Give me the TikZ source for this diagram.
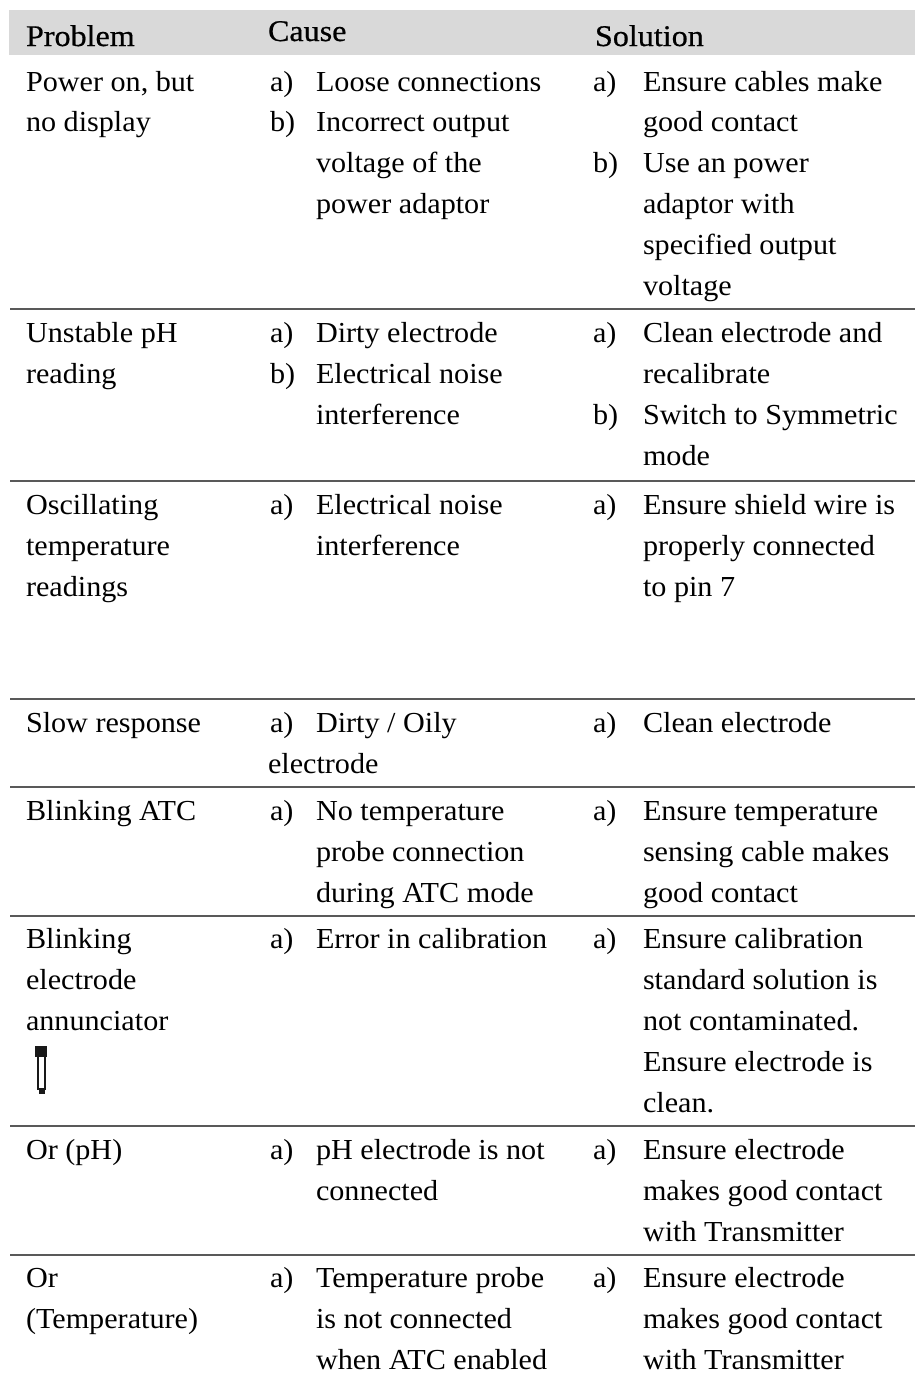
\documentclass[tikz,border=0pt]{standalone}
\usepackage{fontspec}
\setmainfont[FakeStretch=1.04]{Liberation Serif}
\newfontfamily\hdrfont[FakeStretch=1.07,FakeBold=0.6]{Liberation Serif}
\tikzset{
  x=1pt,y=-1pt,
  txt/.style={anchor=base west,inner sep=0pt,outer sep=0pt,font=\fontsize{29}{29}\selectfont,text=black},
  hdr/.style={txt,font=\hdrfont\fontsize{30}{30}\selectfont},
  rulepart/.style={line width=2pt,black!65}
}
\begin{document}
\begin{tikzpicture}
\useasboundingbox (0,0) rectangle (915,1376);
\fill[black!15] (9,10) rectangle (915,55);
\node[hdr] (h1) at (26,46) {Problem};
\node[hdr] (h2) at (268,41) {Cause};
\node[hdr] (h3) at (595,46) {Solution};
\foreach \n/\x/\y/\t in {
a1/26/91/{Power on, but},a2/26/131/{no display},
a3/270/91/{a)},a4/316/91/{Loose connections},
a5/270/131/{b)},a6/316/131/{Incorrect output},
a7/316/172/{voltage of the},a8/316/213/{power adaptor},
a9/593/91/{a)},a10/643/91/{Ensure cables make},
a11/643/131/{good contact},a12/593/172/{b)},a13/643/172/{Use an power},
a14/643/213/{adaptor with},a15/643/254/{specified output},a16/643/295/{voltage},
b1/26/342/{Unstable pH},b2/26/383/{reading},
b3/270/342/{a)},b4/316/342/{Dirty electrode},
b5/270/383/{b)},b6/316/383/{Electrical noise},b7/316/424/{interference},
b8/593/342/{a)},b9/643/342/{Clean electrode and},b10/643/383/{recalibrate},
b11/593/424/{b)},b12/643/424/{Switch to Symmetric},b13/643/465/{mode},
c1/26/514/{Oscillating},c2/26/555/{temperature},c3/26/596/{readings},
c4/270/514/{a)},c5/316/514/{Electrical noise},c6/316/555/{interference},
c7/593/514/{a)},c8/643/514/{Ensure shield wire is},c9/643/555/{properly connected},c10/643/596/{to pin 7},
d1/26/732/{Slow response},d2/270/732/{a)},d3/316/732/{Dirty / Oily},d4/268/773/{electrode},
d5/593/732/{a)},d6/643/732/{Clean electrode},
e1/26/820/{Blinking ATC},e2/270/820/{a)},e3/316/820/{No temperature},e4/316/861/{probe connection},e5/316/902/{during ATC mode},
e6/593/820/{a)},e7/643/820/{Ensure temperature},e8/643/861/{sensing cable makes},e9/643/902/{good contact},
f1/26/948/{Blinking},f2/26/989/{electrode},f3/26/1030/{annunciator},
f4/270/948/{a)},f5/316/948/{Error in calibration},
f6/593/948/{a)},f7/643/948/{Ensure calibration},f8/643/989/{standard solution is},f9/643/1030/{not contaminated.},f10/643/1071/{Ensure electrode is},f11/643/1112/{clean.},
g1/26/1159/{Or (pH)},g2/270/1159/{a)},g3/316/1159/{pH electrode is not},g4/316/1200/{connected},
g5/593/1159/{a)},g6/643/1159/{Ensure electrode},g7/643/1200/{makes good contact},g8/643/1241/{with Transmitter},
i1/26/1287/{Or},i2/26/1328/{(Temperature)},
i3/270/1287/{a)},i4/316/1287/{Temperature probe},i5/316/1328/{is not connected},i6/316/1369/{when ATC enabled},
i7/593/1287/{a)},i8/643/1287/{Ensure electrode},i9/643/1328/{makes good contact},i10/643/1369/{with Transmitter}
}{\node[txt] (\n) at (\x,\y) {\t};}
\foreach \y in {309,481,699,787,916,1126,1255}{\draw[rulepart] (10,\y) -- (915,\y);}
\fill[black!90] (35,1046) rectangle (47,1057);
\draw[black!90,line width=2pt] (38,1057) -- (38,1089) -- (45,1089) -- (45,1057);
\fill[black!90] (38.5,1089) rectangle (44.5,1094);
\end{tikzpicture}
\end{document}
